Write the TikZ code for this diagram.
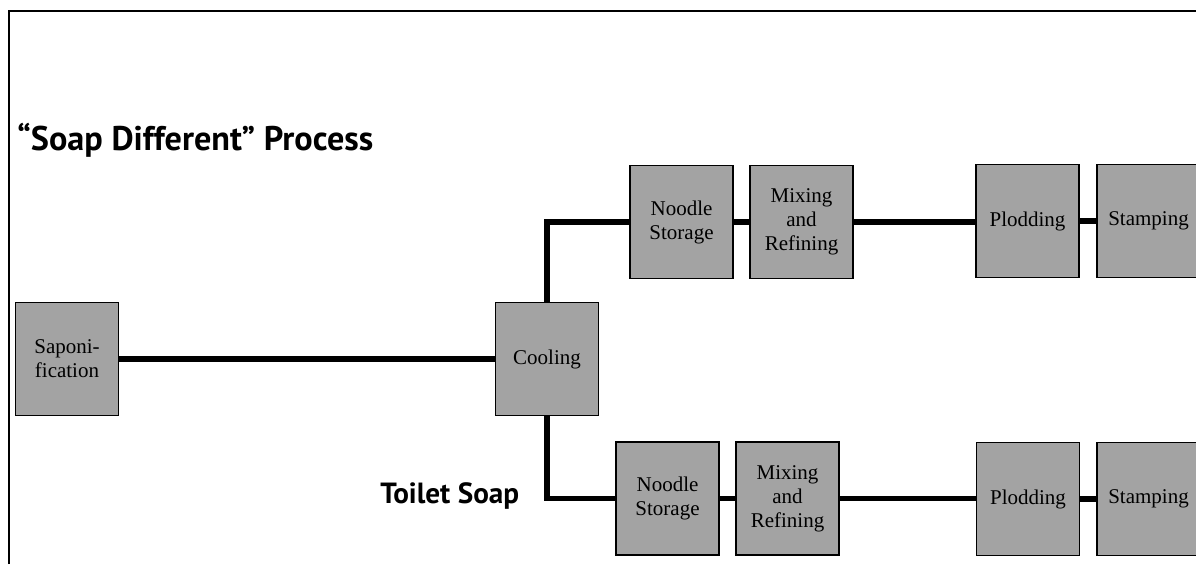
\documentclass[tikz,border=0pt]{standalone}
\usepackage{fontspec}
\setmainfont{Liberation Serif}
\newfontfamily\headfont{PT Sans}
\definecolor{boxgray}{RGB}{163,163,163}

\begin{document}
\begin{tikzpicture}[x=0.5pt,y=-0.5pt,
    box/.style={draw, line width=0.8pt, fill=boxgray, minimum width=51.5pt,
        minimum height=56.5pt, inner sep=0pt, align=center,
        font=\fontsize{10.5}{12}\selectfont},
    pipe/.style={line width=2.6pt}]
    % Page and its frame
    \useasboundingbox (0,0) rectangle (1196,564);
    \clip (0,0) rectangle (1196,564);
    \draw[line width=1pt] (9,564) -- (9,11) -- (1196,11);
    % Headings
    \node[anchor=base west, inner sep=0pt, font=\headfont\bfseries\fontsize{17.1}{19}\selectfont]
        (title) at (17,150) {“Soap Different” Process};
    \node[anchor=base west, inner sep=0pt, font=\headfont\bfseries\fontsize{14.6}{16}\selectfont]
        (toilet) at (380,503) {Toilet Soap};
    % Main line
    \node[box] (sap) at (67,359) {Saponi-\\fication};
    \node[box] (cool) at (547,359) {Cooling};
    % Upper branch
    \node[box] (ns1) at (681.5,222) {Noodle\\Storage};
    \node[box] (mr1) at (801.5,222) {Mixing\\and\\Refining};
    \node[box] (pl1) at (1027.5,221) {Plodding};
    \node[box] (st1) at (1148.5,221) {Stamping};
    % Lower branch
    \node[box] (ns2) at (667.5,498.5) {Noodle\\Storage};
    \node[box] (mr2) at (787.5,498.5) {Mixing\\and\\Refining};
    \node[box] (pl2) at (1028,499) {Plodding};
    \node[box] (st2) at (1148.5,499) {Stamping};
    % Connectors
    \draw[pipe] (sap) -- (cool);
    \draw[pipe] (cool.north) |- (ns1.west);
    \draw[pipe] (ns1) -- (mr1);
    \draw[pipe] (mr1.east) -- (pl1.west |- mr1.east);
    \draw[pipe] (pl1) -- (st1);
    \draw[pipe] (cool.south) |- (ns2.west);
    \draw[pipe] (ns2) -- (mr2);
    \draw[pipe] (mr2.east) -- (pl2.west |- mr2.east);
    \draw[pipe] (pl2) -- (st2);
\end{tikzpicture}
\end{document}
